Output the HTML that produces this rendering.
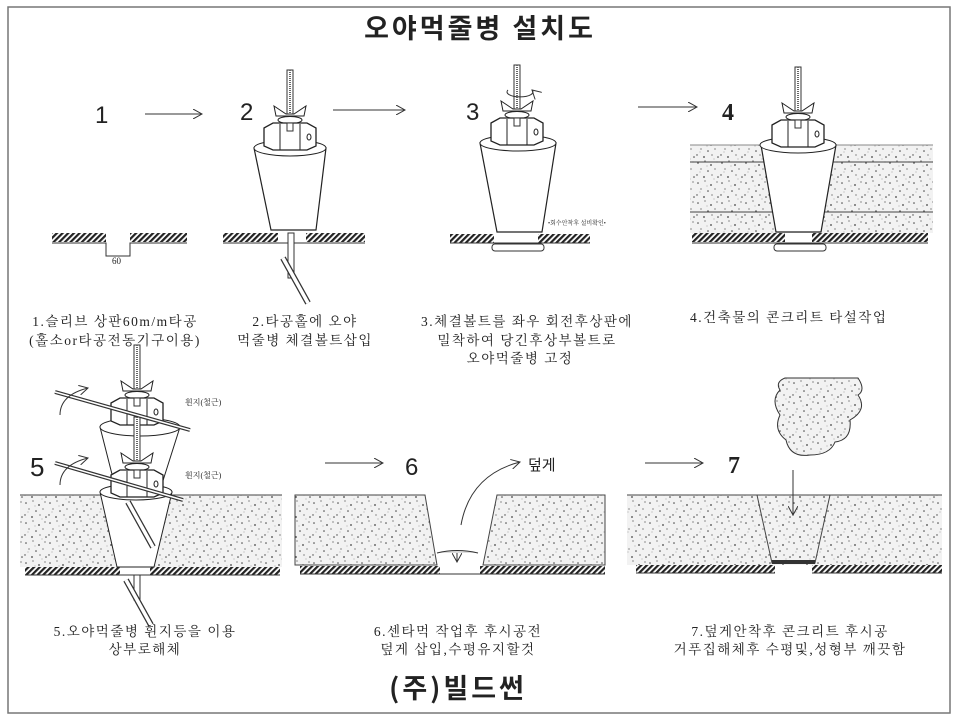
<!DOCTYPE html>
<html><head><meta charset="utf-8"><style>
html,body{margin:0;padding:0;background:#fff;}
svg{display:block;}
text{font-family:"Liberation Serif","Noto Serif CJK SC","Noto Sans CJK KR",serif;fill:#222;}
.cap{font-size:13.5px;letter-spacing:1.5px;}
.num{font-family:"Liberation Sans",sans-serif;font-size:24px;}
</style></head><body>
<svg width="960" height="720" viewBox="0 0 960 720" xmlns="http://www.w3.org/2000/svg">
<defs>
<pattern id="sp" width="24" height="20" patternUnits="userSpaceOnUse">
<rect width="24" height="20" fill="#f2f2f2"/>
<g fill="#444">
<circle cx="2" cy="3" r="0.8"/><circle cx="9" cy="1" r="0.6"/><circle cx="15" cy="5" r="0.9"/><circle cx="21" cy="2" r="0.6"/>
<circle cx="5" cy="9" r="0.6"/><circle cx="12" cy="11" r="0.8"/><circle cx="19" cy="9" r="0.6"/><circle cx="1" cy="15" r="0.7"/>
<circle cx="8" cy="17" r="0.9"/><circle cx="16" cy="15" r="0.6"/><circle cx="22" cy="17" r="0.8"/><circle cx="11" cy="6" r="0.4"/>
<circle cx="18" cy="19" r="0.4"/><circle cx="4" cy="12" r="0.4"/>
</g></pattern>
<pattern id="ht" width="4" height="4" patternUnits="userSpaceOnUse" patternTransform="rotate(45)">
<rect width="4" height="4" fill="#fff"/><rect width="2.2" height="4" fill="#222"/></pattern>
<marker id="ah" markerWidth="10" markerHeight="10" refX="9" refY="5" orient="auto" markerUnits="userSpaceOnUse">
<path d="M0,0 L9,5 L0,10" fill="none" stroke="#333" stroke-width="1"/></marker>
<g id="rod">
<rect x="-3" y="-70" width="6" height="65" fill="#fff" stroke="#333"/>
<line x1="0" y1="-70" x2="0" y2="-5" stroke="#666" stroke-width="2" stroke-dasharray="1 1"/>
</g>
<g id="nut">
<use href="#rod"/>
<path d="M-16,-34 L-4,-26 L4,-26 L16,-34 L14,-24 L-14,-24 Z" fill="#fff" stroke="#222"/>
<ellipse cx="0" cy="-20" rx="12" ry="3.5" fill="#fff" stroke="#222"/>
<path d="M-26,-12 L-17,-17 L17,-17 L26,-12 L26,6 L17,10 L-17,10 L-26,6 Z" fill="#fff" stroke="#222" stroke-width="1.3"/>
<line x1="-10" y1="-16" x2="-10" y2="10" stroke="#222"/><line x1="10" y1="-16" x2="10" y2="10" stroke="#222"/>
<rect x="-3" y="-17" width="6" height="8" fill="#fff" stroke="#333"/>
<ellipse cx="19" cy="-3" rx="2" ry="3" fill="none" stroke="#222"/>
</g>
<g id="tog">
<line x1="0" y1="0" x2="25" y2="45" stroke="#333" stroke-width="6"/>
<line x1="0" y1="0" x2="25" y2="45" stroke="#fff" stroke-width="3.5"/>
</g>
</defs>
<rect x="8" y="7" width="942" height="706" fill="none" stroke="#777" stroke-width="1.5"/>
<text x="480" y="38" text-anchor="middle" style="font-size:27px;font-family:'Noto Sans CJK KR',sans-serif;font-weight:bold;letter-spacing:3px">오야먹줄병 설치도</text>

<!-- Panel 1 -->
<text x="95" y="123" class="num">1</text>
<line x1="145" y1="114" x2="202" y2="114" stroke="#333" marker-end="url(#ah)"/>
<rect x="52" y="233" width="54" height="9" fill="url(#ht)"/><rect x="130" y="233" width="57" height="9" fill="url(#ht)"/>
<path d="M52,243 H106 V256 H130 V243 H187" fill="none" stroke="#333"/>
<text x="112" y="264" style="font-size:9px">60</text>

<!-- Panel 2 -->
<text x="240" y="120" class="num">2</text>
<rect x="223" y="233" width="55" height="9" fill="url(#ht)"/><rect x="306" y="233" width="59" height="9" fill="url(#ht)"/>
<line x1="223" y1="243" x2="365" y2="243" stroke="#333"/>
<path d="M254,148 L271,230 L316,230 L326,148 Z" fill="#fff" stroke="#222" stroke-width="1.2"/>
<ellipse cx="290" cy="148" rx="36" ry="8" fill="#fff" stroke="#222"/>
<use href="#nut" x="290" y="140"/>
<rect x="288" y="233" width="6" height="45" fill="#fff" stroke="#333"/>
<use href="#tog" x="283" y="258"/>
<line x1="333" y1="110" x2="405" y2="110" stroke="#333" marker-end="url(#ah)"/>

<!-- Panel 3 -->
<text x="466" y="120" class="num">3</text>
<rect x="450" y="234" width="44" height="9" fill="url(#ht)"/><rect x="538" y="234" width="52" height="9" fill="url(#ht)"/>
<line x1="450" y1="243" x2="590" y2="243" stroke="#333"/>
<path d="M480,143 L497,232 L542,232 L556,143 Z" fill="#fff" stroke="#222" stroke-width="1.2"/>
<ellipse cx="518" cy="143" rx="38" ry="8" fill="#fff" stroke="#222"/>
<use href="#nut" x="517" y="135"/>
<path d="M508,90 A13,5 0 1 0 532,90" fill="none" stroke="#333" marker-end="url(#ah)"/>
<rect x="492" y="244" width="52" height="7" rx="3" fill="#fff" stroke="#333"/>
<text x="548" y="225" style="font-size:6px">•회수안착후 설비확인•</text>
<line x1="638" y1="107" x2="697" y2="107" stroke="#333" marker-end="url(#ah)"/>

<!-- Panel 4 -->
<text x="722" y="120" class="num" style="font-family:'Liberation Serif',serif;font-weight:bold">4</text>
<rect x="690" y="145" width="243" height="88" fill="url(#sp)"/>
<line x1="690" y1="162" x2="933" y2="162" stroke="#444"/><line x1="690" y1="212" x2="933" y2="212" stroke="#444"/>
<line x1="690" y1="145" x2="933" y2="145" stroke="#888"/>
<rect x="692" y="233" width="93" height="9" fill="url(#ht)"/><rect x="812" y="233" width="116" height="9" fill="url(#ht)"/>
<line x1="692" y1="243" x2="928" y2="243" stroke="#333"/>
<path d="M761,145 L776,232 L821,232 L836,145 Z" fill="#fff" stroke="#222" stroke-width="1.2"/>
<ellipse cx="798" cy="145" rx="38" ry="8" fill="#fff" stroke="#222"/>
<use href="#nut" x="798" y="137"/>
<rect x="774" y="244" width="52" height="7" rx="3" fill="#fff" stroke="#333"/>

<!-- captions top -->
<text x="115" y="326" text-anchor="middle" class="cap">1.슬리브 상판60m/m타공</text>
<text x="115" y="345" text-anchor="middle" class="cap">(홀소or타공전동기구이용)</text>
<text x="305" y="326" text-anchor="middle" class="cap">2.타공홀에 오야</text>
<text x="305" y="345" text-anchor="middle" class="cap">먹줄병 체결볼트삽입</text>
<text x="527" y="326" text-anchor="middle" class="cap">3.체결볼트를 좌우 회전후상판에</text>
<text x="527" y="345" text-anchor="middle" class="cap">밀착하여 당긴후상부볼트로</text>
<text x="520" y="363" text-anchor="middle" class="cap">오야먹줄병 고정</text>
<text x="690" y="322" class="cap">4.건축물의 콘크리트 타설작업</text>

<!-- Panel 5 -->
<text x="30" y="476" class="num" style="font-size:26px">5</text>
<rect x="20" y="495" width="262" height="72" fill="url(#sp)"/>
<line x1="20" y1="495" x2="282" y2="495" stroke="#444"/>
<rect x="25" y="567" width="95" height="8" fill="url(#ht)"/><rect x="150" y="567" width="130" height="8" fill="url(#ht)"/>
<line x1="25" y1="575" x2="280" y2="575" stroke="#333"/>
<path d="M100,492 L117,567 L154,567 L172,492 Z" fill="#fff" stroke="#222"/>
<ellipse cx="136" cy="492" rx="36" ry="8" fill="#fff" stroke="#222"/>
<path d="M100,427 L116,490 L160,490 L180,427 Z" fill="#fff" stroke="#222"/>
<ellipse cx="140" cy="427" rx="40" ry="9" fill="#fff" stroke="#222"/>
<use href="#nut" x="137" y="415"/>
<use href="#nut" x="137" y="487"/>
<line x1="55" y1="392" x2="190" y2="430" stroke="#333" stroke-width="4"/>
<line x1="55" y1="392" x2="190" y2="430" stroke="#fff" stroke-width="1.5"/>
<line x1="55" y1="463" x2="183" y2="500" stroke="#333" stroke-width="4"/>
<line x1="55" y1="463" x2="183" y2="500" stroke="#fff" stroke-width="1.5"/>
<rect x="134" y="575" width="6" height="25" fill="#fff" stroke="#333"/>
<use href="#tog" x="126" y="580"/>
<use href="#tog" x="128" y="502"/>
<path d="M60,415 Q60,395 88,388" fill="none" stroke="#333" marker-end="url(#ah)"/>
<path d="M60,485 Q60,465 88,458" fill="none" stroke="#333" marker-end="url(#ah)"/>
<text x="185" y="405" style="font-size:8px">휜지(철근)</text>
<text x="185" y="478" style="font-size:8px">휜지(철근)</text>

<!-- Panel 6 -->
<line x1="325" y1="463" x2="383" y2="463" stroke="#333" marker-end="url(#ah)"/>
<text x="405" y="475" class="num">6</text>
<path d="M295,495 L425,495 L437,565 L295,565 Z" fill="url(#sp)" stroke="#444"/>
<path d="M497,495 L605,495 L605,565 L483,565 Z" fill="url(#sp)" stroke="#444"/>
<rect x="300" y="566" width="140" height="8" fill="url(#ht)"/><rect x="480" y="566" width="125" height="8" fill="url(#ht)"/>
<line x1="300" y1="574" x2="605" y2="574" stroke="#333"/>
<path d="M437,553 Q457,548 478,553" fill="#ddd" stroke="#333"/>
<line x1="457" y1="553" x2="457" y2="562" stroke="#333" marker-end="url(#ah)"/>
<path d="M461,525 Q470,475 520,462" fill="none" stroke="#333" marker-end="url(#ah)"/>
<text x="528" y="470" style="font-size:15px;font-family:'Noto Sans CJK KR',sans-serif">덮게</text>

<!-- Panel 7 -->
<line x1="645" y1="463" x2="703" y2="463" stroke="#333" marker-end="url(#ah)"/>
<text x="728" y="473" class="num" style="font-family:'Liberation Serif',serif;font-weight:bold">7</text>
<rect x="627" y="495" width="315" height="70" fill="url(#sp)"/>
<line x1="627" y1="495" x2="942" y2="495" stroke="#444"/>
<path d="M757,495 L772,563 L815,563 L830,495" fill="none" stroke="#444"/>
<rect x="772" y="560" width="43" height="4" fill="#333"/>
<rect x="636" y="565" width="139" height="8" fill="url(#ht)"/><rect x="812" y="565" width="130" height="8" fill="url(#ht)"/>
<line x1="636" y1="573" x2="775" y2="573" stroke="#333"/><line x1="812" y1="573" x2="942" y2="573" stroke="#333"/>
<path d="M785,378 L858,378 Q866,390 858,395 Q868,410 850,420 Q852,440 835,442 Q830,455 810,455 Q790,458 786,440 Q773,430 780,415 Q770,400 780,390 Q775,382 785,378 Z" fill="url(#sp)" stroke="#333"/>
<line x1="793" y1="470" x2="793" y2="515" stroke="#333" marker-end="url(#ah)"/>

<!-- captions bottom -->
<text x="145" y="636" text-anchor="middle" class="cap">5.오야먹줄병 휜지등을 이용</text>
<text x="145" y="654" text-anchor="middle" class="cap">상부로해체</text>
<text x="458" y="636" text-anchor="middle" class="cap">6.센타먹 작업후 후시공전</text>
<text x="458" y="654" text-anchor="middle" class="cap">덮게 삽입,수평유지할것</text>
<text x="790" y="636" text-anchor="middle" class="cap">7.덮게안착후 콘크리트 후시공</text>
<text x="790" y="654" text-anchor="middle" class="cap">거푸집해체후 수평및,성형부 깨끗함</text>
<text x="458" y="698" text-anchor="middle" style="font-size:27px;font-family:'Noto Sans CJK KR',sans-serif;font-weight:bold;letter-spacing:3px">(주)빌드썬</text>
</svg>
</body></html>
